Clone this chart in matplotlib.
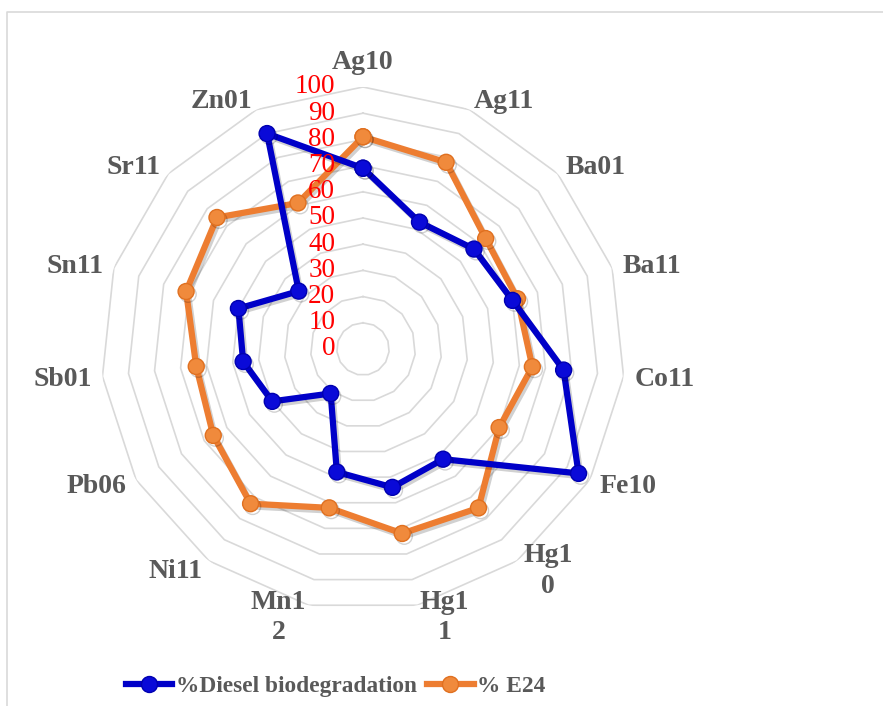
import numpy as np
import matplotlib
matplotlib.use("Agg")
import matplotlib.pyplot as plt
import matplotlib.patheffects as pe
from matplotlib.lines import Line2D

# Data
categories = ['Ag10', 'Ag11', 'Ba01', 'Ba11', 'Co11', 'Fe10', 'Hg1\n0', 'Hg1\n1',
              'Mn1\n2', 'Ni11', 'Pb06', 'Sb01', 'Sn11', 'Sr11', 'Zn01']
diesel = [69, 53, 57, 60, 77, 95, 52, 54, 48, 21, 40, 46, 50, 33, 90]
e24 = [81, 78, 63, 62, 65, 60, 75, 72, 62, 73, 66, 64, 71, 75, 61]
ticks = [0, 10, 20, 30, 40, 50, 60, 70, 80, 90, 100]

n = len(categories)
theta = np.arange(n) * 2 * np.pi / n
theta_c = np.append(theta, theta[0])

fig = plt.figure(figsize=(8.83, 7.06), dpi=100)
ax = fig.add_axes([0.1144, 0.1346, 0.5934, 0.7422], projection='polar')
ax.set_theta_zero_location('N')
ax.set_theta_direction(-1)
ax.set_ylim(0, 100)
ax.grid(False)
ax.spines['polar'].set_visible(False)
ax.set_xticks([])
ax.set_yticks([])

# polygon gridlines
for t in ticks[1:]:
    ax.plot(theta_c, [t] * (n + 1), color='#D9D9D9', lw=1.2, zorder=1)

# red radial labels
for t in ticks:
    ax.annotate(str(t), xy=(0, t), xytext=(-20, 0), textcoords='offset points',
                ha='right', va='center', color='red', fontsize=19.5,
                family='Liberation Serif', zorder=5)

# category labels, placed just outside the outer ring (px -> pt)
grey = '#595959'
for th, lab in zip(theta, categories):
    s, c = np.sin(th), np.cos(th)
    if abs(s) < 0.1:
        ha, va, dx, dy = 'center', 'bottom', 0, 12
    else:
        ha = 'left' if s > 0 else 'right'
        va = 'center'
        dx = 11 * s
        dy = 11 * c - 1.5
    ax.annotate(lab, xy=(th, 100), xytext=(dx * 0.72, dy * 0.72),
                textcoords='offset points', ha=ha, va=va, multialignment='center',
                fontsize=20, family='Liberation Serif', fontweight='bold',
                color=grey, linespacing=1.3, annotation_clip=False)

blue = '#0000C8'
orange = '#ED7D31'
shadow = [pe.SimpleLineShadow(offset=(1.5, -2), alpha=0.18), pe.Normal()]
ax.plot(theta_c, diesel + diesel[:1], color=blue, lw=4.5, marker='o', ms=11.5,
        mfc='#0A0AD8', mec='#0000B0', zorder=4, clip_on=False, path_effects=shadow)
ax.plot(theta_c, e24 + e24[:1], color=orange, lw=4.5, marker='o', ms=11.5,
        mfc='#F08A3C', mec='#E07020', zorder=3, clip_on=False, path_effects=shadow)

# legend
handles = [Line2D([], [], color=blue, lw=4.5, marker='o', ms=11.5, mfc='#0A0AD8', mec='#0000B0'),
           Line2D([], [], color=orange, lw=4.5, marker='o', ms=11.5, mfc='#F08A3C', mec='#E07020')]
leg = fig.legend(handles, ['%Diesel biodegradation', '% E24'], loc='center',
                 bbox_to_anchor=(0.38, 0.028), ncol=2, frameon=False,
                 handlelength=2.0, handletextpad=0.15, columnspacing=0.45,
                 prop={'family': 'Liberation Serif', 'weight': 'bold', 'size': 16.8})
for txt in leg.get_texts():
    txt.set_color(grey)

# chart area border (left and top only visible)
ytop = 1 - 12 / 706
xl = 7 / 883
fig.add_artist(Line2D([xl, xl, 1], [0, ytop, ytop], color='#D9D9D9', lw=1.2,
                      transform=fig.transFigure))

fig.savefig('out.png', dpi=100)
